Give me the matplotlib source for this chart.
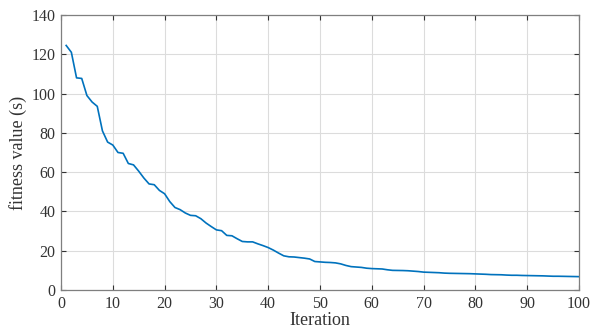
import matplotlib
matplotlib.use("Agg")
import matplotlib.pyplot as plt
import numpy as np

iterations = list(range(1, 101))
fitness = [
    124.5, 121.0, 108.0, 107.7, 99.0, 95.7, 93.5, 81.0, 75.3, 73.8,
    70.0, 69.6, 64.4, 63.7, 60.5, 57.0, 54.0, 53.6, 50.7, 49.0,
    45.0, 42.0, 40.9, 39.2, 38.0, 37.8, 36.3, 34.1, 32.3, 30.6,
    30.2, 27.8, 27.6, 26.1, 24.7, 24.5, 24.5, 23.5, 22.6, 21.6,
    20.3, 18.8, 17.4, 16.9, 16.8, 16.5, 16.2, 15.8, 14.5, 14.3,
    14.1, 14.0, 13.8, 13.3, 12.5, 11.9, 11.7, 11.5, 11.1, 10.9,
    10.8, 10.7, 10.3, 10.0, 9.95, 9.9, 9.8, 9.6, 9.4, 9.1,
    9.0, 8.9, 8.8, 8.6, 8.5, 8.45, 8.4, 8.35, 8.3, 8.2,
    8.1, 8.0, 7.85, 7.8, 7.75, 7.6, 7.5, 7.5, 7.4, 7.35,
    7.3, 7.25, 7.2, 7.1, 7.0, 7.0, 6.95, 6.9, 6.85, 6.8,
]
xticks = list(range(0, 101, 10))
yticks = list(range(0, 141, 20))

plt.rcParams['font.family'] = ['Liberation Serif', 'DejaVu Serif']

fig = plt.figure(figsize=(5.91, 3.28), dpi=100)
ax = fig.add_axes([61/591, 1-290/328, (579-61)/591, (290-15)/328])

ax.plot(iterations, fitness, color='#0072BD', linewidth=1.2)

ax.set_xlim(0, 100)
ax.set_ylim(0, 140)
ax.set_xticks(xticks)
ax.set_yticks(yticks)
ax.grid(True, color='#dcdcdc', linewidth=0.8)
ax.set_axisbelow(True)
for s in ax.spines.values():
    s.set_color('#7f7f7f')
    s.set_linewidth(0.9)
ax.tick_params(direction='in', length=3.5, width=0.8, color='#333333',
               top=True, right=True, labelsize=11.5, labelcolor='#333333', pad=4)
ax.set_xlabel('Iteration', fontsize=13, color='#333333', labelpad=0)
ax.set_ylabel('fitness value (s)', fontsize=13, color='#333333', labelpad=3)

fig.savefig('out.png', dpi=100)
